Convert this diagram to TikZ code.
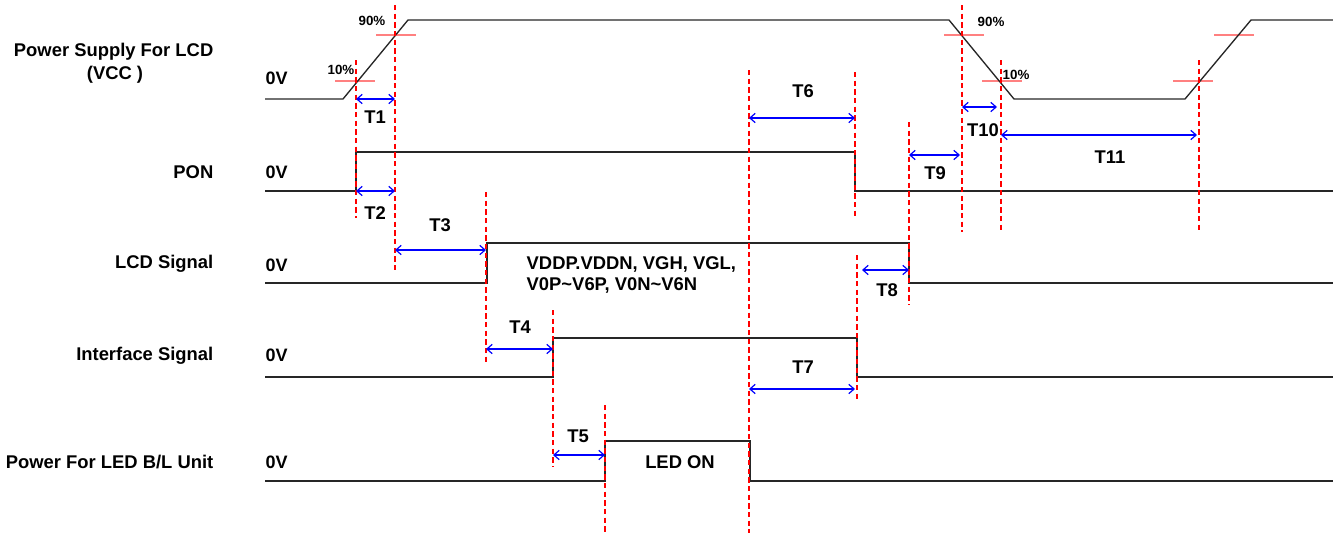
\documentclass[tikz,border=0pt]{standalone}
\usepackage{fontspec}
\setmainfont{Liberation Sans}
\usetikzlibrary{arrows.meta}
\begin{document}
\begin{tikzpicture}[x=0.75pt,y=-0.75pt,
  sig/.style={line width=1pt,black!85},
  guide/.style={draw=red,dash pattern=on 4pt off 2.5pt,line width=1pt},
  thr/.style={draw=red!50,line width=1pt},
  meas/.style={draw=blue,line width=0.9pt,{Straight Barb[length=4pt,width=7pt]}-{Straight Barb[length=4pt,width=7pt]}},
  lbl/.style={font=\bfseries\fontsize{13.8}{16}\selectfont},
  tlab/.style={font=\bfseries\fontsize{13.8}{16}\selectfont},
  pct/.style={font=\bfseries\fontsize{10}{11}\selectfont},
  zero/.style={font=\bfseries\fontsize{13.5}{16}\selectfont}]
\useasboundingbox (0,0) rectangle (1333,533);
% row labels
\node[lbl,anchor=east] (lvcc) at (218,52) {Power Supply For LCD};
\node[lbl] (lvcc2) at (115,75) {(VCC )};
\node[lbl,anchor=east] (lpon) at (218,172) {PON};
\node[lbl,anchor=east] (llcd) at (218,264) {LCD Signal};
\node[lbl,anchor=east] (lif) at (218,356) {Interface Signal};
\node[lbl,anchor=east] (lled) at (218,462) {Power For LED B/L Unit};
% 0V labels
\node[zero,anchor=west] (z1) at (261,78) {0V};
\node[zero,anchor=west] (z2) at (261,172) {0V};
\node[zero,anchor=west] (z3) at (261,265) {0V};
\node[zero,anchor=west] (z4) at (261,355) {0V};
\node[zero,anchor=west] (z5) at (261,462) {0V};
% threshold marks
\draw[thr] (335,81) -- (375,81);
\draw[thr] (376,35) -- (416,35);
\draw[thr] (944,35) -- (984,35);
\draw[thr] (982,81) -- (1022,81);
\draw[thr] (1173,81) -- (1213,81);
\draw[thr] (1214,35) -- (1254,35);
\node[pct] (p90a) at (372,21) {90\%};
\node[pct] (p10a) at (341,70) {10\%};
\node[pct] (p90b) at (991,22) {90\%};
\node[pct] (p10b) at (1016,75) {10\%};
% signals
\draw[sig] (265,99) -- (343,99) -- (408,20) -- (949,20) -- (1014,99) -- (1185,99) -- (1251,20) -- (1333,20);
\draw[sig] (265,191) -- (356,191) -- (356,152) -- (855,152) -- (855,191) -- (1333,191);
\draw[sig] (265,283) -- (487,283) -- (487,243) -- (909,243) -- (909,283) -- (1333,283);
\draw[sig] (265,377) -- (553,377) -- (553,338) -- (857,338) -- (857,377) -- (1333,377);
\draw[sig] (265,481) -- (605,481) -- (605,441) -- (750,441) -- (750,481) -- (1333,481);
% guide lines
\coordinate (g1a) at (356,60);  \coordinate (g1b) at (356,218);
\coordinate (g2a) at (395,5);   \coordinate (g2b) at (395,270);
\coordinate (g3a) at (486,192); \coordinate (g3b) at (486,362);
\coordinate (g4a) at (553,310); \coordinate (g4b) at (553,467);
\coordinate (g5a) at (605,405); \coordinate (g5b) at (605,533);
\coordinate (g6a) at (749,70);  \coordinate (g6b) at (749,533);
\coordinate (g7a) at (855,72);  \coordinate (g7b) at (855,218);
\coordinate (g8a) at (857,255); \coordinate (g8b) at (857,400);
\coordinate (g9a) at (909,122); \coordinate (g9b) at (909,305);
\coordinate (g10a) at (962,5);  \coordinate (g10b) at (962,232);
\coordinate (g11a) at (1001,60); \coordinate (g11b) at (1001,232);
\coordinate (g12a) at (1199,60); \coordinate (g12b) at (1199,232);
\draw[guide] (g1a) -- (g1b);
\draw[guide] (g2a) -- (g2b);
\draw[guide] (g3a) -- (g3b);
\draw[guide] (g4a) -- (g4b);
\draw[guide] (g5a) -- (g5b);
\draw[guide] (g6a) -- (g6b);
\draw[guide] (g7a) -- (g7b);
\draw[guide] (g8a) -- (g8b);
\draw[guide] (g9a) -- (g9b);
\draw[guide] (g10a) -- (g10b);
\draw[guide] (g11a) -- (g11b);
\draw[guide] (g12a) -- (g12b);
% measurement arrows
\draw[meas] (356,99) -- (395,99);   \node[tlab] (t1) at (375,117) {T1};
\draw[meas] (356,191) -- (395,191); \node[tlab] (t2) at (375,213) {T2};
\draw[meas] (395,250) -- (486,250); \node[tlab] (t3) at (440,225) {T3};
\draw[meas] (486,349) -- (553,349); \node[tlab] (t4) at (520,327) {T4};
\draw[meas] (553,455) -- (605,455); \node[tlab] (t5) at (578,436) {T5};
\draw[meas] (749,118) -- (855,118); \node[tlab] (t6) at (803,91) {T6};
\draw[meas] (749,389) -- (855,389); \node[tlab] (t7) at (803,367) {T7};
\draw[meas] (862,270) -- (909,270); \node[tlab] (t8) at (887,290) {T8};
\draw[meas] (909,155) -- (960,155); \node[tlab] (t9) at (935,173) {T9};
\draw[meas] (962,107) -- (997,107); \node[tlab] (t10) at (983,130) {T10};
\draw[meas] (1001,135) -- (1197,135); \node[tlab] (t11) at (1110,157) {T11};
% inner texts
\node[lbl,anchor=west,align=left] (vtxt) at (522,275) {VDDP.VDDN, VGH, VGL,\\V0P\textasciitilde V6P, V0N\textasciitilde V6N};
\node[lbl] (ledon) at (680,462) {LED ON};
\end{tikzpicture}
\end{document}
